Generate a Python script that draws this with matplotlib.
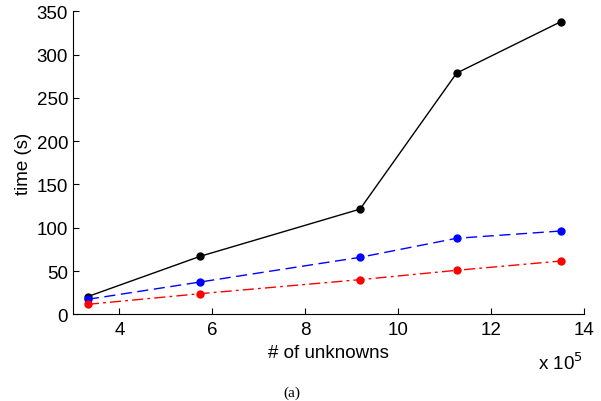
import numpy as np
import matplotlib.pyplot as plt

plt.rcParams['font.family'] = ['Liberation Sans', 'DejaVu Sans']

# number of unknowns (x 10^5)
unknowns = [3.32, 5.74, 9.18, 11.26, 13.5]
t_black = [20.5, 67, 121.5, 278.6, 337.9]
t_blue = [17.3, 37.3, 65.8, 87.8, 96.2]
t_red = [11.5, 23.8, 40, 50.8, 61.5]

xticks = [4, 6, 8, 10, 12, 14]
yticks = [0, 50, 100, 150, 200, 250, 300, 350]

fig = plt.figure(figsize=(6.01, 4.02), dpi=100)
ax = fig.add_axes([0.1215, 0.2157, 0.85, 0.7537])

ax.plot(unknowns, t_black, 'k-', marker='o', markersize=5, linewidth=1)
ax.plot(unknowns, t_blue, color='b', linestyle=(0, (8, 4)), marker='o', markersize=5, linewidth=1)
ax.plot(unknowns, t_red, color='r', linestyle=(0, (8, 3, 2, 3)), marker='o', markersize=5, linewidth=1)

ax.set_xlim(3.0, 14)
ax.set_ylim(0, 350)
ax.set_xticks(xticks)
ax.set_yticks(yticks)
ax.tick_params(direction='in', labelsize=13.5, length=4, width=0.8)
ax.tick_params(axis='x', pad=5)
ax.tick_params(axis='y', pad=3.5)
ax.spines['top'].set_visible(False)
ax.spines['right'].set_visible(False)
for s in ['left', 'bottom']:
    ax.spines[s].set_linewidth(0.8)

ax.set_xlabel('# of unknowns', fontsize=13.5, labelpad=4)
ax.set_ylabel('time (s)', fontsize=13.5, labelpad=3)

fig.text(0.933, 0.097, r'x 10$^5$', fontsize=13.5, ha='center', va='center')
fig.text(0.486, 0.022, '(a)', fontsize=11, family=['Liberation Serif'], ha='center', va='center')

fig.savefig('out.png', dpi=100)
